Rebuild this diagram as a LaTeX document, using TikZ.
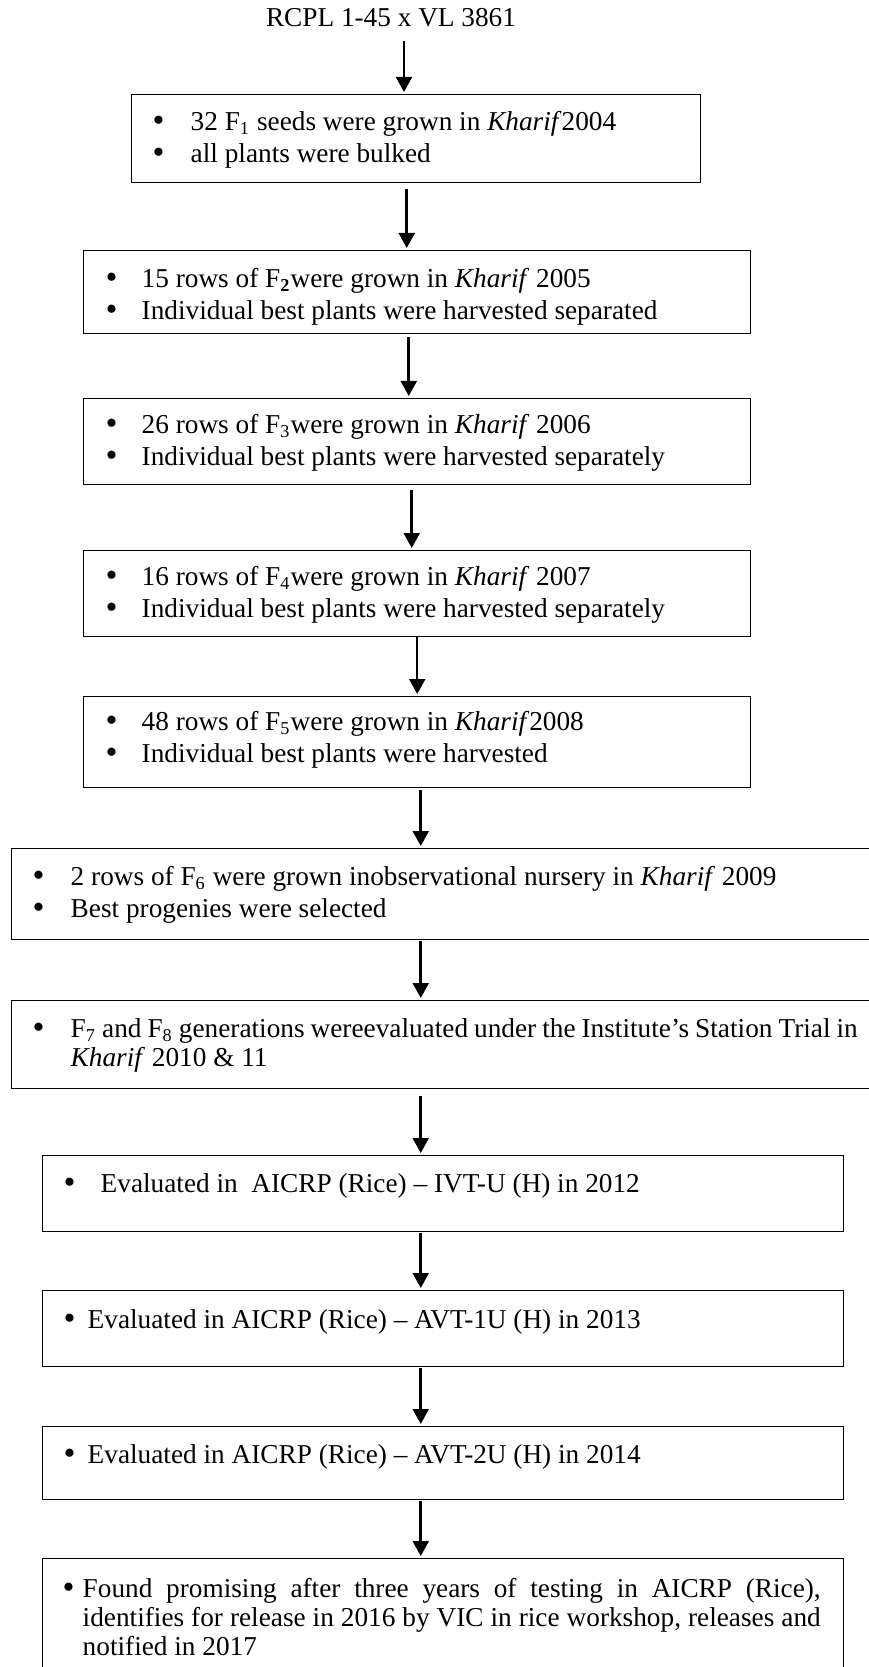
\documentclass[tikz,border=0pt]{standalone}
\usepackage{fontspec}
\setmainfont{Liberation Serif}
\usetikzlibrary{arrows.meta}
\newdimen\pxu
\pxu=0.44pt
\newcommand{\boxbody}[4]{\parbox[c][#2\pxu][t]{#1\pxu}{\rightskip=23\pxu\relax\vskip\dimexpr#3\pxu-\baselineskip\relax\prevdepth=0pt #4}}
\newcommand{\bitem}[3]{\par\hangindent=#2\pxu\hangafter=1\noindent\hspace*{#1\pxu}\makebox[\dimexpr#2\pxu-#1\pxu\relax][l]{\raisebox{-0.2pt}{\fontsize{15}{15}\selectfont\textbullet}}#3}
\tikzset{
  stagebox/.style={draw=black, line width=0.65pt, inner sep=0pt, anchor=north west},
  titlenode/.style={anchor=base, inner sep=4pt},
  flow/.style={-{Triangle[length=6.6pt, width=7pt]}, line width=1.1pt, draw=black, shorten >=2\pxu},
  tightlines/.style={font=\fontsize{12}{12.8}\selectfont}
}
\begin{document}
\begin{tikzpicture}[x=0.44pt, y=-0.44pt, font=\fontsize{12}{14}\selectfont]
  \useasboundingbox (0,0) rectangle (869,1667);
  \clip (0,0) rectangle (869,1667);
  \node[titlenode] (title) at (391,27) {RCPL 1-45 x VL 3861};
  \node[stagebox] (b1) at (131,94) {\boxbody{569}{88}{36}{%
    \bitem{21}{59}{32 F\textsubscript{1} seeds were grown in \textit{Kharif}2004}
    \bitem{21}{59}{all plants were bulked}}};
  \node[stagebox] (b2) at (83,250) {\boxbody{667}{83}{37}{%
    \bitem{22}{58}{15 rows of F\textsubscript{\textbf{2}}were grown in \textit{Kharif} 2005}
    \bitem{22}{58}{Individual best plants were harvested separated}}};
  \node[stagebox] (b3) at (83,398) {\boxbody{667}{86}{35}{%
    \bitem{22}{58}{26 rows of F\textsubscript{3}were grown in \textit{Kharif} 2006}
    \bitem{22}{58}{Individual best plants were harvested separately}}};
  \node[stagebox] (b4) at (83,550) {\boxbody{667}{86}{35}{%
    \bitem{22}{58}{16 rows of F\textsubscript{4}were grown in \textit{Kharif} 2007}
    \bitem{22}{58}{Individual best plants were harvested separately}}};
  \node[stagebox] (b5) at (83,696) {\boxbody{667}{91}{34}{%
    \bitem{22}{58}{48 rows of F\textsubscript{5}were grown in \textit{Kharif}2008}
    \bitem{22}{58}{Individual best plants were harvested}}};
  \node[stagebox] (b6) at (11,848) {\boxbody{869}{91}{37}{%
    \bitem{21}{59}{2 rows of F\textsubscript{6} were grown inobservational nursery in \textit{Kharif} 2009}
    \bitem{21}{59}{Best progenies were selected}}};
  \node[stagebox, tightlines] (b7) at (11,1000) {\boxbody{869}{88}{37}{%
    \bitem{21}{59}{F\textsubscript{7} and F\textsubscript{8} generations wereevaluated under the Institute’s Station Trial in\newline \textit{Kharif} 2010 \& 11}}};
  \node[stagebox] (b8) at (42,1155) {\boxbody{801}{76}{37}{%
    \bitem{21}{58}{Evaluated in\ \ AICRP (Rice) – IVT-U (H) in 2012}}};
  \node[stagebox] (b9) at (42,1290) {\boxbody{801}{76}{38}{%
    \bitem{21}{45}{Evaluated in AICRP (Rice) – AVT-1U (H) in 2013}}};
  \node[stagebox] (b10) at (42,1426) {\boxbody{801}{73}{37}{%
    \bitem{21}{45}{Evaluated in AICRP (Rice) – AVT-2U (H) in 2014}}};
  \node[stagebox, tightlines] (b11) at (42,1558) {\boxbody{801}{142}{39}{%
    \bitem{20}{40}{Found promising after three years of testing in AICRP (Rice),\linebreak identifies for release in 2016 by VIC in rice workshop, releases and\linebreak notified in 2017}}};
  \draw[flow, shorten <=4\pxu] ([xshift=13\pxu]title.south) -- ([xshift=13\pxu]title.south |- b1.north);
  \draw[flow, shorten <=6\pxu] ([xshift=-9.5\pxu]b1.south) -- ([xshift=-9.5\pxu]b1.south |- b2.north);
  \draw[flow, shorten <=3\pxu] ([xshift=-8.5\pxu]b2.south) -- ([xshift=-8.5\pxu]b2.south |- b3.north);
  \draw[flow, shorten <=5\pxu] ([xshift=-5.5\pxu]b3.south) -- ([xshift=-5.5\pxu]b3.south |- b4.north);
  \draw[flow] (b4.south) -- (b4.south |- b5.north);
  \draw[flow, shorten <=2\pxu] ([xshift=3.5\pxu]b5.south) -- ([xshift=3.5\pxu]b5.south |- b6.north);
  \draw[flow, shorten <=1\pxu] ([xshift=-25.5\pxu]b6.south) -- ([xshift=-25.5\pxu]b6.south |- b7.north);
  \draw[flow, shorten <=7\pxu] ([xshift=-25.5\pxu]b7.south) -- ([xshift=-25.5\pxu]b7.south |- b8.north);
  \draw[flow, shorten <=1\pxu] ([xshift=-22.5\pxu]b8.south) -- ([xshift=-22.5\pxu]b8.south |- b9.north);
  \draw[flow, shorten <=1\pxu] ([xshift=-22.5\pxu]b9.south) -- ([xshift=-22.5\pxu]b9.south |- b10.north);
  \draw[flow, shorten <=1\pxu] ([xshift=-22.5\pxu]b10.south) -- ([xshift=-22.5\pxu]b10.south |- b11.north);
\end{tikzpicture}
\end{document}
